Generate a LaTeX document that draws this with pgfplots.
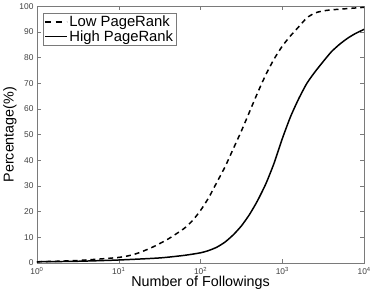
\documentclass[border=0pt]{standalone}
\usepackage{pgfplots}
\pgfplotsset{compat=1.18}
\usepackage{fontspec}
\setmainfont{Liberation Sans}
\definecolor{axgray}{HTML}{7A7A7A}
\definecolor{txtgray}{HTML}{404040}
\begin{document}
\begin{tikzpicture}[x=1bp,y=1bp]
\begin{axis}[
  scale only axis,
  width=330bp, height=259bp,
  xmode=log, log basis x=10,
  xmin=1, xmax=10000, ymin=0, ymax=100,
  ytick={0,10,...,100},
  xtick={1,10,100,1000,10000},
  xticklabel={\pgfmathparse{int(round(\tick))}10\textsuperscript{\pgfmathresult}},
  /pgf/number format/assume math mode=true,
  axis line style={axgray, line width=0.6bp},
  every tick/.style={axgray, line width=0.5bp},
  major tick length=4bp, minor tick length=2.5bp,
  tick align=inside,
  ticklabel style={font=\fontsize{8.5}{9}\selectfont, text=txtgray},
  xticklabel style={yshift=-1bp},
  xlabel={Number of Followings},
  ylabel={Percentage(\%)},
  label style={font=\fontsize{14.5}{16}\selectfont},
  xlabel style={yshift=5bp},
  ylabel style={yshift=-4bp},
  legend style={at={(0.018,0.973)}, anchor=north west, draw=axgray, line width=0.5bp,
    font=\fontsize{15}{16}\selectfont, inner xsep=1bp, inner ysep=0.5bp, row sep=-1.5bp,
    legend cell align=left},
  legend image code/.code={\draw[#1, line width=1.5bp] (0bp,0bp) -- (22bp,0bp);},
]
\addplot[black, line width=1.5bp, dash pattern=on 5bp off 4bp, smooth, tension=0.4,
  legend image post style={dash pattern=on 6bp off 5bp}] coordinates {
(1,0.5) (3.162,1.0) (10,2.2) (15.85,3.5) (25.12,6.0) (39.81,9.3) (63.10,13.5) (79.43,16.5)
(100,20.5) (125.9,25.5) (158.5,31.5) (199.5,37.5) (251.2,44.5) (316.2,51.5) (398.1,59)
(501.2,66.5) (631.0,73.5) (794.3,79.5) (1000,84.5) (1259,88.5) (1585,92) (1995,95.5)
(2512,97.4) (3162,98.2) (3981,98.6) (6310,99.1) (10000,99.6)
};
\addlegendentry{Low PageRank}
\addplot[black, line width=1.5bp, smooth, tension=0.4] coordinates {
(1,0.5) (3.162,0.7) (10,1.2) (31.62,2.0) (63.10,3.0) (100,4.0) (125.9,4.9) (158.5,6.2)
(199.5,8.2) (251.2,11) (316.2,14.5) (398.1,19) (501.2,24.5) (631.0,31) (794.3,39)
(1000,48.5) (1259,57) (1585,64) (1995,70) (2512,74.5) (3162,78.5) (3981,82.3)
(5012,85.2) (6310,87.6) (7943,89.5) (10000,91)
};
\addlegendentry{High PageRank}
\end{axis}
\end{tikzpicture}
\end{document}
